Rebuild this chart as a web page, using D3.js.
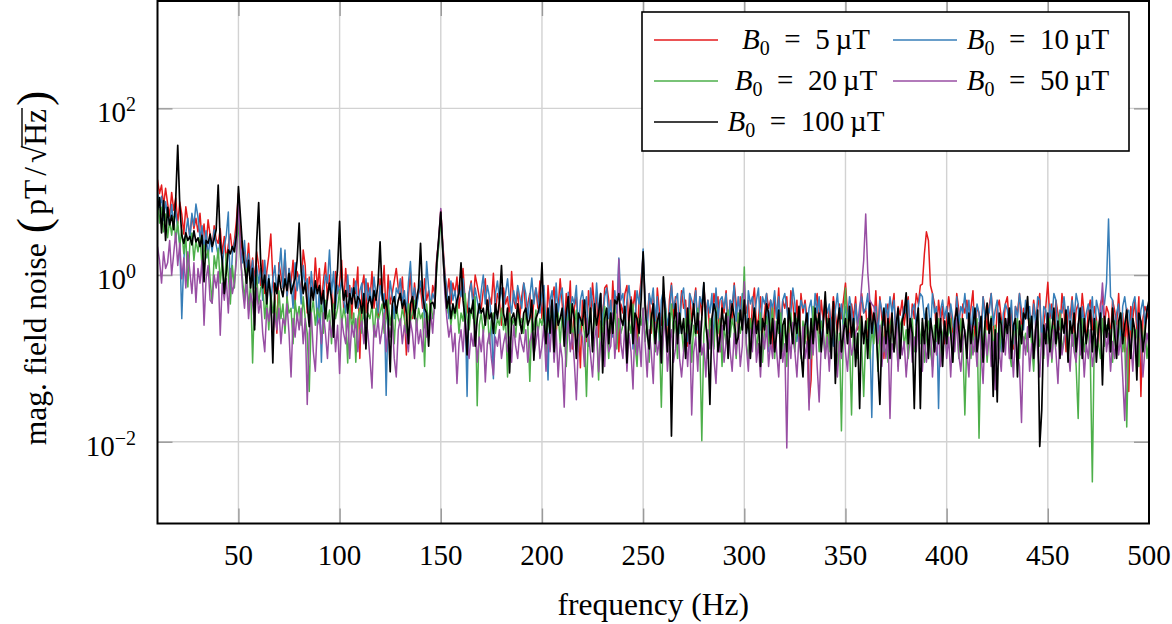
<!DOCTYPE html>
<html><head><meta charset="utf-8">
<script src="https://cdn.jsdelivr.net/npm/d3@7/dist/d3.min.js"></script>
<style>
body{margin:0;background:#fff}
svg{display:block}
text{font-family:"Liberation Serif","Times New Roman",serif;fill:#000}
</style>
</head><body>
<svg id="chart" width="1172" height="624"></svg>
<script>
// ---------- data (pT/sqrt(Hz)), one value per 1 Hz bin, 10..500 Hz ----------
const freqStart = 10;
const freqEnd = 500;
const seriesLabels = ["5", "10", "20", "50", "100"];
const seriesColors = ["#e41a1c", "#377eb8", "#4daf4a", "#984ea3", "#000000"];

const b5uT = [
/*10*/ 14, 9.5, 12, 6.8, 11, 7.2, 5.1, 9.8, 6.0, 8.4,
/*20*/ 4.2, 7.5, 5.4, 3.1, 6.6, 4.4, 2.9, 5.2, 3.6, 4.8,
/*30*/ 3.3, 5.5, 2.6, 4.1, 2.2, 4.6, 3.0, 2.1, 3.9, 2.7,
/*40*/ 2.4, 3.6, 1.8, 2.9, 1.5, 2.3, 3.1, 1.9, 2.6, 4.5,
/*50*/ 9.5, 3.2, 1.7, 2.0, 1.2, 2.4, 1.0, 1.6, 0.85, 1.9,
/*60*/ 1.3, 0.75, 1.5, 0.6, 1.1, 1.7, 3.1, 0.9, 0.55, 0.2,
/*70*/ 1.4, 1.0, 0.7, 1.8, 0.5, 1.2, 0.8, 1.5, 0.45, 1.1,
/*80*/ 0.9, 0.6, 2.0, 1.3, 0.35, 0.95, 0.7, 0.55, 1.6, 0.7,
/*90*/ 1.2, 0.45, 0.85, 1.4, 0.5, 1.0, 0.65, 0.3, 1.1, 0.6,
/*100*/ 0.8, 1.5, 0.4, 1.2, 0.55, 0.75, 0.3, 0.9, 0.6, 1.25,
/*110*/ 0.1, 0.7, 1.0, 0.35, 0.8, 0.5, 1.1, 0.4, 0.65, 0.25,
/*120*/ 0.9, 0.55, 1.3, 0.3, 1.0, 0.45, 0.6, 0.85, 1.2, 0.7,
/*130*/ 0.5, 0.95, 0.35, 0.11, 0.55, 1.1, 0.3, 0.8, 0.45, 0.6,
/*140*/ 0.7, 0.4, 0.9, 0.5, 0.65, 0.35, 0.75, 0.6, 1.6, 2.6,
/*150*/ 6.0, 2.4, 1.1, 0.55, 0.9, 0.45, 0.8, 0.6, 0.95, 0.4,
/*160*/ 0.7, 1.2, 0.5, 0.35, 0.6, 0.85, 0.45, 1.0, 0.75, 0.55,
/*170*/ 0.4, 0.65, 0.9, 0.3, 0.55, 0.45, 1.05, 0.35, 0.6, 0.5,
/*180*/ 0.25, 0.7, 0.45, 0.55, 0.3, 1.1, 0.5, 0.4, 0.65, 0.3,
/*190*/ 0.55, 0.8, 0.35, 0.45, 0.6, 0.25, 0.5, 0.7, 0.4, 0.85,
/*200*/ 0.3, 0.55, 0.18, 0.75, 0.35, 0.5, 0.72, 0.2, 0.4, 0.9,
/*210*/ 0.45, 0.22, 0.6, 0.35, 0.85, 0.13, 0.4, 0.55, 0.25, 0.077,
/*220*/ 0.5, 0.35, 0.16, 0.65, 0.3, 0.8, 0.4, 0.55, 0.18, 0.6,
/*230*/ 0.28, 0.7, 0.76, 0.5, 0.2, 0.85, 0.3, 0.55, 0.12, 0.45,
/*240*/ 0.35, 0.6, 0.75, 0.22, 0.55, 0.4, 0.65, 0.15, 0.5, 0.9,
/*250*/ 1.7, 0.45, 0.3, 0.6, 0.2, 0.55, 0.15, 0.7, 0.38, 0.25,
/*260*/ 0.6, 0.4, 0.14, 0.5, 0.8, 0.3, 0.55, 0.22, 0.3, 0.65,
/*270*/ 0.4, 0.5, 0.14, 0.6, 0.28, 0.45, 0.7, 0.2, 0.55, 0.33,
/*280*/ 0.75, 0.35, 0.5, 0.18, 0.25, 0.6, 0.4, 0.55, 0.12, 0.5,
/*290*/ 0.35, 0.65, 0.24, 0.5, 0.3, 0.8, 0.45, 0.17, 0.55, 0.28,
/*300*/ 0.6, 0.35, 0.5, 0.16, 0.45, 0.7, 0.25, 0.3, 0.55, 0.2,
/*310*/ 0.35, 0.6, 0.4, 0.5, 0.12, 0.55, 0.3, 0.7, 0.22, 0.5,
/*320*/ 0.4, 0.55, 0.18, 0.65, 0.45, 0.25, 0.5, 0.14, 0.6, 0.35,
/*330*/ 0.5, 0.3, 0.03, 0.055, 0.35, 0.45, 0.6, 0.2, 0.5, 0.28,
/*340*/ 0.45, 0.16, 0.4, 0.25, 0.55, 0.35, 0.2, 0.45, 0.3, 0.5,
/*350*/ 0.8, 0.35, 0.13, 0.45, 0.3, 0.55, 0.22, 0.25, 0.6, 0.35,
/*360*/ 0.4, 0.18, 0.5, 0.35, 0.25, 0.65, 0.2, 0.55, 0.3, 0.1,
/*370*/ 0.35, 0.45, 0.2, 0.4, 0.6, 0.15, 0.42, 0.33, 0.5, 0.25,
/*380*/ 0.4, 0.55, 0.18, 0.45, 0.3, 0.6, 0.45, 0.75, 0.78, 1.8,
/*390*/ 3.3, 2.6, 0.75, 0.6, 0.45, 0.2, 0.5, 0.28, 0.42, 0.15,
/*400*/ 0.3, 0.55, 0.35, 0.2, 0.25, 0.6, 0.38, 0.12, 0.45, 0.35,
/*410*/ 0.5, 0.25, 0.4, 0.65, 0.18, 0.42, 0.35, 0.2, 0.55, 0.38,
/*420*/ 0.22, 0.42, 0.6, 0.3, 0.14, 0.4, 0.5, 0.3, 0.2, 0.45,
/*430*/ 0.55, 0.25, 0.38, 0.13, 0.42, 0.35, 0.6, 0.22, 0.4, 0.3,
/*440*/ 0.42, 0.18, 0.25, 0.5, 0.3, 0.4, 0.6, 0.15, 0.25, 0.42,
/*450*/ 0.82, 0.3, 0.45, 0.18, 0.5, 0.35, 0.22, 0.6, 0.38, 0.12,
/*460*/ 0.42, 0.3, 0.55, 0.2, 0.38, 0.45, 0.25, 0.6, 0.33, 0.16,
/*470*/ 0.38, 0.5, 0.22, 0.42, 0.3, 0.14, 0.45, 0.55, 0.25, 0.42,
/*480*/ 0.35, 0.18, 0.5, 0.38, 0.25, 0.6, 0.2, 0.35, 0.12, 0.4,
/*490*/ 0.04, 0.42, 0.3, 0.5, 0.22, 0.55, 0.035, 0.3, 0.42, 0.35,
/*500*/ 0.28
];

const b10uT = [
/*10*/ 10, 6.5, 8.8, 4.5, 7.6, 5.2, 3.8, 7.0, 4.1, 5.9,
/*20*/ 3.6, 2.4, 0.3, 1.5, 3.2, 4.8, 2.7, 5.5, 3.9, 7.1,
/*30*/ 5.0, 2.8, 3.9, 2.0, 3.4, 1.6, 2.9, 1.9, 3.5, 2.3,
/*40*/ 1.7, 2.6, 1.3, 2.2, 3.0, 5.7, 0.55, 1.8, 2.4, 3.2,
/*50*/ 5.5, 2.1, 1.4, 2.6, 1.1, 1.8, 0.9, 1.5, 0.7, 1.3,
/*60*/ 0.8, 1.2, 0.5, 1.5, 0.65, 1.0, 0.45, 0.9, 1.3, 0.6,
/*70*/ 1.1, 2.1, 0.7, 2.0, 0.55, 1.2, 0.8, 0.4, 1.4, 0.65,
/*80*/ 1.0, 0.45, 1.3, 0.7, 0.9, 0.35, 1.1, 0.6, 0.8, 0.25,
/*90*/ 0.7, 0.09, 0.55, 1.0, 0.8, 2.0, 0.6, 1.1, 0.4, 0.75,
/*100*/ 0.6, 0.9, 0.5, 0.35, 1.0, 0.45, 0.7, 0.55, 0.85, 0.4,
/*110*/ 0.65, 0.8, 0.3, 0.9, 0.5, 0.7, 0.4, 0.95, 0.55, 0.35,
/*120*/ 0.75, 0.5, 0.6, 0.036, 0.4, 0.85, 0.55, 0.3, 0.7, 0.6,
/*130*/ 0.9, 0.45, 0.65, 0.35, 0.8, 1.45, 0.5, 0.7, 0.4, 0.6,
/*140*/ 0.85, 0.55, 0.3, 1.45, 0.7, 0.45, 0.6, 0.5, 1.3, 2.4,
/*150*/ 5.2, 2.2, 1.0, 0.7, 0.3, 0.85, 0.5, 0.65, 0.4, 0.75,
/*160*/ 0.55, 0.9, 0.45, 0.035, 0.6, 0.8, 0.4, 0.7, 0.5, 0.35,
/*170*/ 0.65, 1.0, 0.45, 0.75, 0.55, 0.3, 0.057, 0.6, 0.85, 0.5,
/*180*/ 0.7, 0.4, 0.6, 0.9, 0.5, 0.35, 0.65, 0.45, 0.75, 0.55,
/*190*/ 0.4, 0.8, 0.6, 0.3, 0.55, 0.92, 0.45, 0.7, 0.5, 0.35,
/*200*/ 0.6, 0.75, 0.25, 0.055, 0.5, 0.65, 0.2, 0.8, 0.35, 0.55,
/*210*/ 0.7, 0.3, 0.15, 0.62, 0.35, 0.55, 0.45, 0.75, 0.2, 0.5,
/*220*/ 0.65, 0.4, 0.55, 0.14, 0.7, 0.45, 0.3, 0.8, 0.35, 0.6,
/*230*/ 0.25, 0.55, 0.7, 0.3, 0.5, 0.18, 0.65, 0.35, 1.6, 0.5,
/*240*/ 0.6, 0.22, 0.5, 0.75, 0.4, 0.13, 0.3, 0.65, 0.45, 0.7,
/*250*/ 2.05, 0.5, 0.2, 0.6, 0.45, 0.7, 0.28, 0.55, 0.15, 0.5,
/*260*/ 0.65, 0.45, 0.25, 0.35, 0.75, 0.4, 0.5, 0.6, 0.2, 0.55,
/*270*/ 0.7, 0.3, 0.16, 0.6, 0.5, 0.4, 0.65, 0.22, 0.55, 0.45,
/*280*/ 0.8, 0.25, 0.5, 0.35, 0.6, 0.14, 0.7, 0.3, 0.5, 0.55,
/*290*/ 0.4, 0.6, 0.2, 0.5, 0.45, 0.75, 0.28, 0.55, 0.3, 0.6,
/*300*/ 0.5, 0.18, 0.65, 0.45, 0.55, 0.3, 0.5, 0.7, 0.22, 0.55,
/*310*/ 0.45, 0.6, 0.12, 0.5, 0.4, 0.65, 0.3, 0.55, 0.2, 0.5,
/*320*/ 0.6, 0.4, 0.25, 0.35, 0.7, 0.45, 0.16, 0.3, 0.5, 0.4,
/*330*/ 0.45, 0.2, 0.4, 0.5, 0.25, 0.6, 0.35, 0.55, 0.14, 0.3,
/*340*/ 0.5, 0.35, 0.45, 0.2, 0.14, 0.38, 0.6, 0.3, 0.45, 0.22,
/*350*/ 0.42, 0.3, 0.55, 0.38, 0.18, 0.45, 0.25, 0.42, 0.55, 0.35,
/*360*/ 0.4, 0.6, 0.25, 0.0195, 0.35, 0.42, 0.18, 0.5, 0.38, 0.25,
/*370*/ 0.45, 0.3, 0.55, 0.35, 0.5, 0.16, 0.4, 0.13, 0.3, 0.42,
/*380*/ 0.35, 0.5, 0.22, 0.38, 0.45, 0.25, 0.42, 0.6, 0.55, 0.3,
/*390*/ 0.38, 0.45, 0.2, 0.6, 0.35, 0.42, 0.025, 0.38, 0.5, 0.3,
/*400*/ 0.42, 0.2, 0.45, 0.3, 0.16, 0.55, 0.25, 0.42, 0.35, 0.6,
/*410*/ 0.3, 0.5, 0.18, 0.42, 0.25, 0.45, 0.35, 0.13, 0.55, 0.3,
/*420*/ 0.42, 0.35, 0.6, 0.25, 0.38, 0.5, 0.2, 0.12, 0.35, 0.45,
/*430*/ 0.38, 0.25, 0.5, 0.15, 0.42, 0.3, 0.6, 0.38, 0.22, 0.5,
/*440*/ 0.3, 0.42, 0.18, 0.45, 0.25, 0.55, 0.5, 0.15, 0.42, 0.38,
/*450*/ 0.22, 0.45, 0.3, 0.6, 0.5, 0.18, 0.38, 0.35, 0.55, 0.3,
/*460*/ 0.42, 0.2, 0.5, 0.3, 0.6, 0.45, 0.12, 0.42, 0.25, 0.35,
/*470*/ 0.45, 0.3, 0.55, 0.18, 0.5, 0.38, 0.25, 0.42, 0.45, 0.8,
/*480*/ 4.7, 0.55, 0.5, 0.2, 0.35, 0.45, 0.14, 0.42, 0.55, 0.35,
/*490*/ 0.38, 0.22, 0.45, 0.55, 0.3, 0.18, 0.38, 0.5, 0.25, 0.42,
/*500*/ 0.35
];

const b20uT = [
/*10*/ 8.5, 4.2, 6.5, 3.3, 5.4, 2.8, 4.6, 3.0, 5.0, 2.6,
/*20*/ 4.4, 2.2, 3.5, 1.8, 2.9, 0.72, 2.4, 3.2, 1.5, 2.6,
/*30*/ 1.9, 2.8, 1.3, 2.3, 1.6, 2.0, 0.9, 0.46, 1.7, 1.2,
/*40*/ 2.1, 0.8, 1.5, 0.6, 1.8, 1.0, 0.45, 1.3, 0.7, 1.9,
/*50*/ 4.5, 1.6, 0.9, 0.5, 1.2, 0.38, 0.8, 0.088, 0.6, 1.0,
/*60*/ 0.45, 0.7, 0.8, 0.3, 0.55, 0.22, 0.6, 0.35, 0.5, 0.25,
/*70*/ 0.65, 0.3, 0.45, 0.2, 0.55, 0.35, 0.4, 0.15, 0.5, 0.3,
/*80*/ 0.42, 0.25, 0.55, 0.3, 0.2, 0.04, 0.35, 0.5, 0.25, 0.4,
/*90*/ 0.3, 0.45, 0.2, 0.5, 0.28, 0.38, 0.15, 0.45, 0.3, 0.4,
/*100*/ 0.66, 0.25, 0.4, 0.3, 0.088, 0.45, 0.22, 0.35, 0.09, 0.3,
/*110*/ 0.4, 0.2, 0.5, 0.25, 0.35, 0.3, 0.45, 0.18, 0.4, 0.28,
/*120*/ 0.35, 0.45, 0.2, 0.3, 0.5, 0.25, 0.38, 0.15, 0.42, 0.3,
/*130*/ 0.25, 0.4, 0.3, 0.2, 0.45, 0.28, 0.35, 0.5, 0.22, 0.4,
/*140*/ 0.3, 0.35, 0.08, 0.45, 0.25, 0.5, 0.3, 0.4, 1.2, 2.2,
/*150*/ 4.8, 1.8, 0.7, 0.35, 0.5, 0.25, 0.4, 0.3, 0.45, 0.2,
/*160*/ 0.35, 0.28, 0.6, 0.3, 0.22, 0.4, 0.3, 0.55, 0.027, 0.25,
/*170*/ 0.35, 0.2, 0.3, 0.4, 0.15, 0.28, 0.35, 0.2, 0.3, 0.25,
/*180*/ 0.4, 0.22, 0.3, 0.06, 0.35, 0.25, 0.3, 0.18, 0.4, 0.25,
/*190*/ 0.3, 0.2, 0.35, 0.25, 0.053, 0.3, 0.22, 0.38, 0.2, 0.3,
/*200*/ 0.25, 0.4, 0.12, 0.3, 0.22, 0.45, 0.1, 0.28, 0.35, 0.15,
/*210*/ 0.35, 0.2, 0.08, 0.3, 0.45, 0.18, 0.25, 0.38, 0.12, 0.25,
/*220*/ 0.3, 0.2, 0.035, 0.25, 0.4, 0.14, 0.35, 0.22, 0.055, 0.28,
/*230*/ 0.2, 0.42, 0.25, 0.1, 0.35, 0.22, 0.45, 0.13, 0.3, 0.2,
/*240*/ 0.25, 0.38, 0.1, 0.28, 0.2, 0.45, 0.15, 0.08, 0.3, 0.25,
/*250*/ 0.4, 0.16, 0.28, 0.09, 0.35, 0.22, 0.12, 0.3, 0.2, 0.026,
/*260*/ 0.25, 0.4, 0.14, 0.22, 0.45, 0.2, 0.28, 0.1, 0.35, 0.22,
/*270*/ 0.12, 0.3, 0.2, 0.38, 0.09, 0.25, 0.18, 0.4, 0.15, 0.0103,
/*280*/ 0.2, 0.35, 0.1, 0.3, 0.22, 0.13, 0.4, 0.2, 0.3, 0.08,
/*290*/ 0.25, 0.15, 0.38, 0.18, 0.3, 0.22, 0.1, 0.35, 0.2, 0.28,
/*300*/ 1.25, 0.15, 0.1, 0.3, 0.2, 0.38, 0.12, 0.22, 0.35, 0.09,
/*310*/ 0.22, 0.32, 0.14, 0.25, 0.4, 0.1, 0.28, 0.2, 0.35, 0.12,
/*320*/ 0.3, 0.08, 0.22, 0.35, 0.18, 0.12, 0.3, 0.2, 0.1, 0.28,
/*330*/ 0.15, 0.25, 0.2, 0.1, 0.42, 0.18, 0.3, 0.12, 0.28, 0.2,
/*340*/ 0.1, 0.3, 0.12, 0.22, 0.35, 0.18, 0.08, 0.2, 0.0135, 0.25,
/*350*/ 0.7, 0.2, 0.15, 0.021, 0.28, 0.18, 0.1, 0.3, 0.15, 0.035,
/*360*/ 0.18, 0.3, 0.1, 0.22, 0.15, 0.35, 0.07, 0.2, 0.28, 0.12,
/*370*/ 0.2, 0.09, 0.25, 0.32, 0.12, 0.2, 0.08, 0.25, 0.3, 0.14,
/*380*/ 0.22, 0.1, 0.18, 0.3, 0.12, 0.2, 0.35, 0.15, 0.27, 0.09,
/*390*/ 0.18, 0.28, 0.12, 0.08, 0.25, 0.16, 0.3, 0.1, 0.2, 0.26,
/*400*/ 0.12, 0.22, 0.3, 0.09, 0.18, 0.25, 0.1, 0.3, 0.15, 0.021,
/*410*/ 0.18, 0.28, 0.1, 0.22, 0.12, 0.3, 0.011, 0.2, 0.15, 0.28,
/*420*/ 0.09, 0.2, 0.32, 0.12, 0.25, 0.18, 0.1, 0.28, 0.14, 0.22,
/*430*/ 0.3, 0.12, 0.08, 0.22, 0.18, 0.3, 0.1, 0.25, 0.15, 0.2,
/*440*/ 0.12, 0.3, 0.15, 0.07, 0.22, 0.28, 0.14, 0.2, 0.1, 0.25,
/*450*/ 0.15, 0.3, 0.09, 0.25, 0.14, 0.2, 0.35, 0.12, 0.18, 0.22,
/*460*/ 0.1, 0.28, 0.14, 0.2, 0.08, 0.019, 0.25, 0.3, 0.12, 0.18,
/*470*/ 0.22, 0.1, 0.0033, 0.2, 0.28, 0.15, 0.1, 0.3, 0.14, 0.25,
/*480*/ 0.15, 0.22, 0.09, 0.28, 0.14, 0.2, 0.35, 0.12, 0.18, 0.015,
/*490*/ 0.2, 0.12, 0.3, 0.15, 0.22, 0.08, 0.28, 0.14, 0.25, 0.1,
/*500*/ 0.18
];

const b50uT = [
/*10*/ 2.2, 1.5, 0.8, 1.9, 1.2, 1.4, 2.6, 1.0, 1.8, 3.2,
/*20*/ 1.3, 2.4, 0.9, 1.6, 0.7, 1.9, 1.1, 0.6, 1.4, 0.47,
/*30*/ 1.2, 0.8, 1.5, 0.25, 0.9, 1.3, 0.5, 0.46, 1.0, 0.7,
/*40*/ 1.1, 0.19, 0.8, 0.5, 0.9, 0.35, 1.2, 0.6, 0.8, 1.5,
/*50*/ 9.0, 1.8, 0.7, 0.4, 0.9, 0.3, 0.6, 0.45, 0.25, 0.7,
/*60*/ 0.35, 0.5, 0.2, 0.12, 0.4, 0.28, 0.45, 0.18, 0.35, 0.22,
/*70*/ 0.4, 0.15, 0.3, 0.25, 0.45, 0.2, 0.06, 0.3, 0.18, 0.35,
/*80*/ 0.22, 0.4, 0.15, 0.3, 0.028, 0.2, 0.35, 0.12, 0.07, 0.25,
/*90*/ 0.3, 0.15, 0.35, 0.2, 0.1, 0.28, 0.18, 0.32, 0.12, 0.25,
/*100*/ 0.066, 0.3, 0.2, 0.15, 0.35, 0.1, 0.25, 0.18, 0.3, 0.12,
/*110*/ 0.22, 0.28, 0.15, 0.3, 0.2, 0.1, 0.044, 0.25, 0.18, 0.3,
/*120*/ 0.15, 0.22, 0.35, 0.12, 0.25, 0.18, 0.3, 0.1, 0.06, 0.22,
/*130*/ 0.3, 0.15, 0.25, 0.18, 0.12, 0.28, 0.2, 0.1, 0.3, 0.15,
/*140*/ 0.22, 0.12, 0.3, 0.18, 0.25, 0.35, 0.2, 0.5, 1.5, 2.8,
/*150*/ 6.3, 2.0, 0.6, 0.3, 0.18, 0.25, 0.12, 0.2, 0.05, 0.15,
/*160*/ 0.22, 0.12, 0.3, 0.15, 0.1, 0.2, 0.14, 0.25, 0.09, 0.18,
/*170*/ 0.12, 0.22, 0.052, 0.15, 0.2, 0.1, 0.063, 0.18, 0.14, 0.22,
/*180*/ 0.1, 0.15, 0.2, 0.12, 0.18, 0.09, 0.25, 0.14, 0.1, 0.2,
/*190*/ 0.15, 0.12, 0.22, 0.09, 0.16, 0.2, 0.11, 0.15, 0.24, 0.1,
/*200*/ 0.14, 0.25, 0.07, 0.2, 0.12, 0.3, 0.09, 0.22, 0.06, 0.15,
/*210*/ 0.1, 0.026, 0.18, 0.28, 0.12, 0.2, 0.09, 0.032, 0.15, 0.22,
/*220*/ 0.18, 0.08, 0.3, 0.2, 0.11, 0.06, 0.17, 0.25, 0.069, 0.15,
/*230*/ 0.2, 0.08, 0.28, 0.12, 0.14, 0.35, 0.1, 0.22, 1.55, 0.15,
/*240*/ 0.1, 0.25, 0.07, 0.2, 0.12, 0.043, 0.3, 0.11, 0.18, 0.08,
/*250*/ 0.4, 0.15, 0.06, 0.22, 0.12, 0.05, 0.26, 0.11, 0.16, 0.09,
/*260*/ 0.18, 0.3, 0.07, 0.15, 0.22, 0.09, 0.13, 0.35, 0.1, 0.06,
/*270*/ 0.12, 0.2, 0.08, 0.25, 0.021, 0.12, 0.18, 0.07, 0.28, 0.11,
/*280*/ 0.15, 0.06, 0.22, 0.13, 0.3, 0.1, 0.05, 0.18, 0.12, 0.25,
/*290*/ 0.09, 0.16, 0.32, 0.12, 0.07, 0.2, 0.11, 0.26, 0.08, 0.14,
/*300*/ 0.83, 0.14, 0.07, 0.22, 0.12, 0.3, 0.09, 0.15, 0.06, 0.2,
/*310*/ 0.13, 0.25, 0.08, 0.16, 0.1, 0.28, 0.12, 0.06, 0.2, 0.09,
/*320*/ 0.15, 0.0084, 0.2, 0.1, 0.27, 0.12, 0.06, 0.18, 0.11, 0.24,
/*330*/ 0.1, 0.16, 0.024, 0.2, 0.11, 0.3, 0.08, 0.03, 0.14, 0.22,
/*340*/ 0.1, 0.18, 0.07, 0.2, 0.35, 0.12, 0.06, 0.16, 0.1, 0.25,
/*350*/ 0.12, 0.07, 0.2, 0.11, 0.14, 0.2, 0.25, 0.35, 0.75, 1.5,
/*360*/ 5.4, 1.1, 0.5, 0.45, 0.42, 0.3, 0.15, 0.25, 0.08, 0.18,
/*370*/ 0.1, 0.22, 0.019, 0.15, 0.12, 0.28, 0.07, 0.2, 0.11, 0.16,
/*380*/ 0.06, 0.13, 0.25, 0.09, 0.18, 0.12, 0.3, 0.1, 0.07, 0.2,
/*390*/ 0.09, 0.15, 0.25, 0.06, 0.17, 0.11, 0.22, 0.08, 0.13, 0.28,
/*400*/ 0.1, 0.18, 0.06, 0.2, 0.12, 0.3, 0.11, 0.07, 0.16, 0.22,
/*410*/ 0.12, 0.06, 0.25, 0.11, 0.18, 0.08, 0.27, 0.12, 0.05, 0.2,
/*420*/ 0.11, 0.24, 0.08, 0.16, 0.042, 0.2, 0.12, 0.07, 0.25, 0.11,
/*430*/ 0.3, 0.1, 0.16, 0.06, 0.2, 0.12, 0.08, 0.017, 0.18, 0.11,
/*440*/ 0.24, 0.07, 0.15, 0.1, 0.28, 0.12, 0.06, 0.2, 0.11, 0.26,
/*450*/ 0.08, 0.16, 0.1, 0.22, 0.12, 0.05, 0.2, 0.11, 0.16, 0.28,
/*460*/ 0.13, 0.07, 0.22, 0.12, 0.09, 0.26, 0.11, 0.18, 0.06, 0.15,
/*470*/ 0.1, 0.22, 0.08, 0.12, 0.16, 0.2, 0.35, 0.8, 0.3, 0.12,
/*480*/ 0.2, 0.07, 0.16, 0.1, 0.25, 0.11, 0.18, 0.06, 0.018, 0.13,
/*490*/ 0.2, 0.15, 0.07, 0.22, 0.1, 0.28, 0.16, 0.06, 0.13, 0.2,
/*500*/ 0.14
];

const b100uT = [
/*10*/ 6.0, 8.5, 3.2, 7.8, 2.6, 6.5, 4.0, 5.2, 3.5, 8.0,
/*20*/ 36, 7.0, 3.0, 2.4, 3.2, 2.6, 2.9, 2.3, 3.4, 2.5,
/*30*/ 2.8, 2.2, 3.0, 0.83, 2.6, 2.4, 3.1, 2.2, 2.7, 3.5,
/*40*/ 12, 2.5, 1.5, 0.6, 1.1, 2.0, 1.8, 2.2, 1.9, 3.0,
/*50*/ 11.5, 5.0, 2.2, 1.3, 0.8, 1.5, 0.7, 1.2, 0.22, 2.5,
/*60*/ 7.4, 1.4, 0.7, 1.0, 0.45, 0.9, 0.55, 0.088, 0.8, 0.6,
/*70*/ 1.0, 0.7, 0.55, 0.9, 0.65, 1.05, 0.6, 0.75, 0.9, 1.5,
/*80*/ 4.2, 1.1, 0.6, 0.8, 0.45, 0.24, 0.7, 0.5, 0.85, 0.6,
/*90*/ 0.75, 0.45, 0.65, 0.3, 0.55, 0.8, 0.5, 0.18, 0.6, 1.2,
/*100*/ 4.4, 0.9, 0.5, 0.65, 0.35, 0.6, 0.45, 0.7, 0.4, 0.55,
/*110*/ 0.5, 0.35, 0.6, 0.13, 0.45, 0.55, 0.4, 0.65, 0.5, 0.8,
/*120*/ 2.5, 0.6, 0.4, 0.5, 0.3, 0.069, 0.45, 0.55, 0.35, 0.5,
/*130*/ 0.6, 0.4, 0.5, 0.35, 0.15, 0.45, 0.55, 0.3, 0.5, 0.7,
/*140*/ 2.4, 0.6, 0.4, 0.35, 0.14, 0.45, 0.47, 0.4, 1.4, 2.8,
/*150*/ 5.7, 2.0, 0.8, 0.4, 0.55, 0.3, 0.45, 0.35, 0.5, 0.6,
/*160*/ 1.4, 0.5, 0.3, 0.11, 0.4, 0.35, 0.5, 0.14, 0.3, 0.45,
/*170*/ 0.35, 0.4, 0.25, 0.5, 0.3, 0.35, 0.2, 0.45, 0.3, 0.5,
/*180*/ 1.3, 0.35, 0.25, 0.4, 0.067, 0.3, 0.35, 0.25, 0.45, 0.3,
/*190*/ 0.2, 0.35, 0.4, 0.25, 0.3, 0.5, 0.095, 0.3, 0.35, 0.45,
/*200*/ 1.4, 0.3, 0.15, 0.4, 0.2, 0.5, 0.12, 0.45, 0.25, 0.3,
/*210*/ 0.4, 0.14, 0.35, 0.55, 0.2, 0.45, 0.3, 0.1, 0.35, 0.3,
/*220*/ 0.25, 0.5, 0.18, 0.2, 0.4, 0.12, 0.45, 0.25, 0.35, 0.6,
/*230*/ 0.067, 0.3, 0.4, 0.15, 0.35, 0.2, 0.5, 0.45, 0.6, 0.3,
/*240*/ 0.25, 0.42, 0.088, 0.3, 0.5, 0.15, 0.35, 0.3, 0.2, 0.5,
/*250*/ 1.9, 0.4, 0.2, 0.13, 0.3, 0.45, 0.15, 0.28, 0.35, 0.088,
/*260*/ 0.95, 0.3, 0.12, 0.35, 0.0117, 0.25, 0.45, 0.15, 0.35, 0.2,
/*270*/ 0.3, 0.1, 0.4, 0.15, 0.25, 0.45, 0.2, 0.35, 0.12, 0.3,
/*280*/ 0.81, 0.25, 0.15, 0.028, 0.3, 0.45, 0.35, 0.12, 0.18, 0.4,
/*290*/ 0.22, 0.35, 0.1, 0.28, 0.45, 0.32, 0.15, 0.18, 0.38, 0.22,
/*300*/ 0.5, 0.2, 0.3, 0.1, 0.25, 0.4, 0.2, 0.28, 0.08, 0.3,
/*310*/ 0.22, 0.45, 0.35, 0.15, 0.3, 0.12, 0.2, 0.38, 0.1, 0.25,
/*320*/ 0.3, 0.12, 0.4, 0.25, 0.15, 0.35, 0.2, 0.42, 0.12, 0.06,
/*330*/ 0.25, 0.35, 0.1, 0.3, 0.15, 0.4, 0.22, 0.35, 0.12, 0.25,
/*340*/ 0.63, 0.2, 0.3, 0.1, 0.48, 0.05, 0.25, 0.4, 0.12, 0.2,
/*350*/ 0.3, 0.15, 0.42, 0.18, 0.3, 0.08, 0.2, 0.025, 0.32, 0.15,
/*360*/ 0.28, 0.1, 0.46, 0.2, 0.35, 0.25, 0.09, 0.028, 0.2, 0.4,
/*370*/ 0.15, 0.3, 0.1, 0.35, 0.12, 0.25, 0.4, 0.1, 0.28, 0.35,
/*380*/ 0.61, 0.15, 0.3, 0.2, 0.025, 0.25, 0.4, 0.025, 0.3, 0.15,
/*390*/ 0.4, 0.1, 0.3, 0.2, 0.12, 0.35, 0.15, 0.3, 0.08, 0.28,
/*400*/ 0.15, 0.35, 0.2, 0.09, 0.28, 0.4, 0.22, 0.12, 0.3, 0.2,
/*410*/ 0.1, 0.35, 0.15, 0.25, 0.4, 0.12, 0.2, 0.32, 0.09, 0.28,
/*420*/ 0.46, 0.2, 0.3, 0.035, 0.22, 0.03, 0.35, 0.25, 0.12, 0.3,
/*430*/ 0.2, 0.4, 0.1, 0.25, 0.3, 0.06, 0.28, 0.15, 0.35, 0.3,
/*440*/ 0.55, 0.18, 0.32, 0.1, 0.22, 0.38, 0.0088, 0.024, 0.25, 0.15,
/*450*/ 0.35, 0.12, 0.22, 0.4, 0.15, 0.28, 0.1, 0.3, 0.2, 0.38,
/*460*/ 0.09, 0.28, 0.2, 0.35, 0.12, 0.25, 0.4, 0.1, 0.3, 0.15,
/*470*/ 0.25, 0.38, 0.12, 0.3, 0.09, 0.22, 0.35, 0.048, 0.32, 0.18,
/*480*/ 0.3, 0.12, 0.4, 0.2, 0.1, 0.28, 0.35, 0.15, 0.25, 0.38,
/*490*/ 0.2, 0.1, 0.3, 0.22, 0.055, 0.35, 0.28, 0.12, 0.2, 0.38,
/*500*/ 0.5
];

const xTickValues = [50, 100, 150, 200, 250, 300, 350, 400, 450, 500];
const yTickValues = [1e-2, 1e0, 1e2];
const yTickExponents = ["\u22122", "0", "2"];

// ---------- drawing ----------
const allSeries = [b5uT, b10uT, b20uT, b50uT, b100uT];
const nBins = freqEnd - freqStart + 1;
allSeries.forEach((s, i) => { if (s.length !== nBins) throw new Error("series " + i + " has " + s.length + " values"); });

const W = 1172, H = 624;
const plot = {left: 157.5, right: 1149, top: 1, bottom: 523.5};

const svg = d3.select("#chart");
svg.append("rect").attr("width", W).attr("height", H).attr("fill", "#fff");

const x = d3.scaleLinear().domain([freqStart, freqEnd]).range([plot.left, plot.right]);
const y = d3.scaleLog().domain([Math.pow(10, -2.981), Math.pow(10, 3.288)]).range([plot.bottom, plot.top]);

// grid
const grid = svg.append("g");
grid.selectAll("line.gx").data(xTickValues).join("line")
  .attr("x1", d => x(d)).attr("x2", d => x(d))
  .attr("y1", plot.top).attr("y2", plot.bottom)
  .attr("stroke", "#d2d2d2").attr("stroke-width", 1.4);
grid.selectAll("line.gy").data(yTickValues).join("line")
  .attr("y1", d => y(d)).attr("y2", d => y(d))
  .attr("x1", plot.left).attr("x2", plot.right)
  .attr("stroke", "#d2d2d2").attr("stroke-width", 1.4);

// inward ticks
const tickLen = 15;
const tickColor = "#9a9a9a";
function styleAxis(g) {
  g.select(".domain").remove();
  g.selectAll(".tick line").attr("stroke", tickColor).attr("stroke-width", 1.4);
  g.selectAll(".tick text").remove();
}
svg.append("g").attr("transform", `translate(0,${plot.bottom})`)
  .call(d3.axisTop(x).tickValues(xTickValues.filter(v => v < freqEnd)).tickSize(tickLen)).call(styleAxis);
svg.append("g").attr("transform", `translate(0,${plot.top})`)
  .call(d3.axisBottom(x).tickValues(xTickValues.filter(v => v < freqEnd)).tickSize(tickLen)).call(styleAxis);
svg.append("g").attr("transform", `translate(${plot.left},0)`)
  .call(d3.axisRight(y).tickValues(yTickValues).tickSize(tickLen)).call(styleAxis);
svg.append("g").attr("transform", `translate(${plot.right},0)`)
  .call(d3.axisLeft(y).tickValues(yTickValues).tickSize(tickLen)).call(styleAxis);

// data lines
svg.append("clipPath").attr("id", "clip").append("rect")
  .attr("x", plot.left).attr("y", plot.top)
  .attr("width", plot.right - plot.left).attr("height", plot.bottom - plot.top);
const line = d3.line().x((d, i) => x(freqStart + i)).y(d => y(d));
const lines = svg.append("g").attr("clip-path", "url(#clip)");
allSeries.forEach((s, i) => {
  lines.append("path").datum(s).attr("d", line)
    .attr("fill", "none").attr("stroke", seriesColors[i])
    .attr("stroke-width", i === 4 ? 1.7 : 1.5).attr("stroke-linejoin", "round");
});

// frame
svg.append("rect").attr("x", plot.left).attr("y", plot.top)
  .attr("width", plot.right - plot.left).attr("height", plot.bottom - plot.top)
  .attr("fill", "none").attr("stroke", "#000").attr("stroke-width", 2);

// x tick labels
const fs = 29;
svg.append("g").selectAll("text").data(xTickValues).join("text")
  .attr("x", d => x(d)).attr("y", 565).attr("text-anchor", "middle")
  .attr("font-size", fs).text(d => d);

// y tick labels (10^k)
const yl = svg.append("g").selectAll("text").data(yTickValues).join("text")
  .attr("x", 136).attr("y", d => y(d) + 14).attr("text-anchor", "end").attr("font-size", fs);
yl.append("tspan").text("10");
yl.append("tspan").attr("dy", -11).attr("font-size", 20).text((d, i) => yTickExponents[i]);

// x axis title
const ft = 31.5;
svg.append("text").attr("x", (plot.left + plot.right) / 2).attr("y", 615)
  .attr("text-anchor", "middle").attr("font-size", ft).text("frequency (Hz)");

// y axis title, rotated, assembled from pieces
const yt = svg.append("g").attr("transform", "translate(46,268) rotate(-90)");
const pieces = [
  {t: "mag. field noise", size: ft, gap: 10},
  {t: "(", size: 46, gap: 3, dy: 3},
  {t: "pT", size: ft, gap: 4},
  {t: "/", size: ft, gap: 4},
  {t: "\u221A", size: ft, gap: 0, root: true},
  {t: "Hz", size: ft, gap: 3, over: true},
  {t: ")", size: 46, gap: 0, dy: 3}
];
let cx = 0;
const placed = [];
pieces.forEach(p => {
  const t = yt.append("text").attr("x", cx).attr("y", p.dy || 0).attr("font-size", p.size).text(p.t);
  const w = t.node().getComputedTextLength();
  placed.push({node: t, x0: cx, w: w, p: p});
  cx += w + p.gap;
});
const total = cx;
placed.forEach(o => o.node.attr("x", o.x0 - total / 2));
const rootP = placed.find(o => o.p.root);
const hzP = placed.find(o => o.p.over);
yt.append("line")
  .attr("x1", rootP.x0 - total / 2 + rootP.w - 1).attr("x2", hzP.x0 - total / 2 + hzP.w + 1)
  .attr("y1", -24).attr("y2", -24).attr("stroke", "#000").attr("stroke-width", 1.4);

// legend
const leg = svg.append("g");
leg.append("rect").attr("x", 642).attr("y", 12).attr("width", 487).attr("height", 139)
  .attr("fill", "#fff").attr("stroke", "#000").attr("stroke-width", 1.6);
const legPos = [
  {lx: 654, tx: 806, y: 40}, {lx: 893, tx: 1038, y: 40},
  {lx: 654, tx: 806, y: 81}, {lx: 893, tx: 1038, y: 81},
  {lx: 654, tx: 806, y: 122}
];
seriesLabels.forEach((lab, i) => {
  const p = legPos[i];
  leg.append("line").attr("x1", p.lx).attr("x2", p.lx + 64).attr("y1", p.y).attr("y2", p.y)
    .attr("stroke", seriesColors[i]).attr("stroke-width", 1.5);
  const t = leg.append("text").attr("x", p.tx).attr("y", p.y + 9).attr("text-anchor", "middle").attr("font-size", fs);
  t.append("tspan").attr("font-style", "italic").text("B");
  t.append("tspan").attr("dy", 6).attr("font-size", 20).text("0");
  t.append("tspan").attr("dy", -6).text("\u2002=\u2002" + lab + "\u2009\u00B5T");
});
</script>
</body></html>
